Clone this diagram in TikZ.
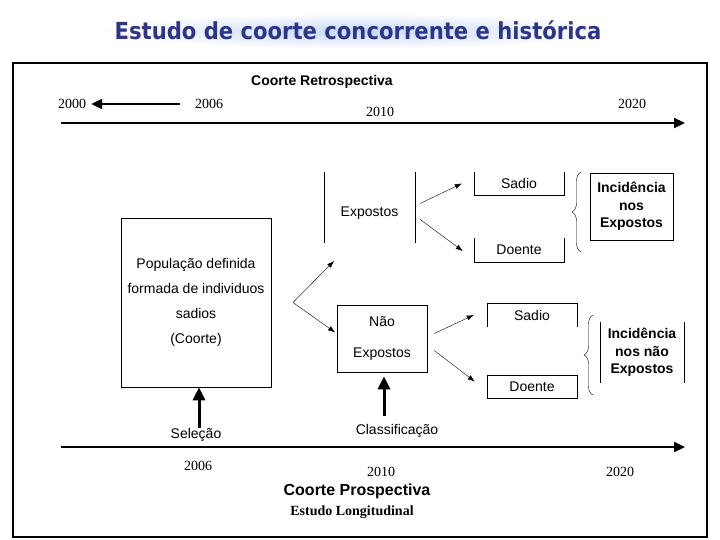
\documentclass[tikz,border=0pt]{standalone}
\usepackage{fontspec}
\setmainfont{Liberation Serif}
\setsansfont{Liberation Sans}
\newfontfamily\titlefont{DejaVu Sans Condensed}
\usetikzlibrary{arrows.meta, positioning, calc, decorations.pathreplacing}
\definecolor{ctitle}{HTML}{2E3586}
\definecolor{cglow}{HTML}{C6D8FA}

\begin{document}
\begin{tikzpicture}[
  x=1pt, y=-1pt,
  font=\sffamily\fontsize{14}{16}\selectfont,
  every node/.style={inner sep=0pt},
  year/.style={font=\rmfamily\fontsize{14}{16}\selectfont},
  heading/.style={font=\sffamily\bfseries\fontsize{14}{16}\selectfont},
  openbox/.style={minimum width=90pt, minimum height=24pt},
  incid/.style={align=center, font=\sffamily\bfseries\fontsize{14}{17.5}\selectfont},
  side/.style={semithick},
  timeline/.style={line width=2.2pt, -{Triangle[length=11pt, width=10pt]}},
  upbar/.style={line width=3pt, -{Triangle[length=13pt, width=12pt]}},
  thinarr/.style={thin, -{Latex[length=7pt, width=5pt]}},
  curly/.style={thin, decorate, decoration={brace, amplitude=9pt}},
  ]
\useasboundingbox (0,0) rectangle (720,540);

% title
\shade[inner color=cglow, outer color=white] (358,31) ellipse (260 and 18);
\node[font=\titlefont\bfseries\fontsize{23.5}{26}\selectfont, text=ctitle] (title) at (358,30)
  {Estudo de coorte concorrente e histórica};
\draw[line width=2pt] (13,63) rectangle (707,537);

% retrospective time line
\node[heading] (retro) at (322,82) {Coorte Retrospectiva};
\node[year] (y2000) at (72,104) {2000};
\node[year] (y2006) at (209,104) {2006};
\node[year] (y2010) at (380,112) {2010};
\node[year] (y2020) at (632,104) {2020};
\draw[timeline] ([xshift=-15pt]y2006.west) -- ([xshift=5pt]y2000.east);
\coordinate (rstart) at (61,123);
\coordinate (rend) at (685,123);
\draw[timeline] (rstart) -- (rend);

% cohort
\node[draw, semithick, minimum width=150pt, minimum height=169pt, align=center,
      font=\sffamily\fontsize{14}{25}\selectfont] (pop) at (196,302.5)
  {População definida\\formada de individuos\\sadios\\(Coorte)};
\coordinate (fork) at (293,302.5);
\coordinate (forkup) at (334,261);

% exposed
\node[minimum width=91pt, minimum height=71pt] (expo) at (369.5,207.5) {};
\node (expotxt) at ($(expo.center)+(0,6)$) {Expostos};
\draw[side] (expo.north west) -- (expo.south west);
\draw[side] (expo.north east) -- (expo.south east);
\node[draw, semithick, minimum width=90pt, minimum height=67pt, align=center,
      font=\sffamily\fontsize{14}{31}\selectfont] (nexp) at (382,338.5) {Não\\Expostos};

\draw[thinarr] (fork) -- (forkup);
\draw[thinarr, shorten >=2pt] (fork) -- ($(nexp.west)+(0,-5)$);

% outcomes
\node[openbox, minimum height=23pt] (sadA) at (519,183.5) {Sadio};
\draw[side] (sadA.north west) -- (sadA.south west) -- (sadA.south east) -- (sadA.north east);
\node[openbox] (doeA) at (519,250) {Doente};
\draw[side] (doeA.north west) -- (doeA.south west) -- (doeA.south east) -- (doeA.north east);
\node[openbox] (sadB) at (532,315) {Sadio};
\draw[side] (sadB.south west) -- (sadB.north west) -- (sadB.north east) -- (sadB.south east);
\node[openbox, draw, semithick, minimum height=23pt] (doeB) at (532,386.5) {Doente};

\draw[thinarr] ($(expo.east)+(5,-4)$) -- ($(sadA.west)+(-12,0)$);
\draw[thinarr] ($(expo.east)+(5,12)$) -- ($(doeA.west)+(-11,1)$);
\draw[thinarr] ($(nexp.east)+(7,-5)$) -- ($(sadB.west)+(-13,0)$);
\draw[thinarr] ($(nexp.east)+(7,12)$) -- ($(doeB.west)+(-12,-5)$);

% incidence
\draw[curly] (581,252) -- (581,172);
\node[incid, draw, semithick, minimum width=83pt, minimum height=67pt] (incA) at (631.5,206.5)
  {Incidência\\nos\\Expostos};
\draw[curly] (593,395) -- (593,315);
\node[incid, minimum width=84pt, minimum height=61pt] (incB) at (642,352.5)
  {Incidência\\nos não\\Expostos};
\draw[side] (incB.north west) -- (incB.south west);
\draw[side] (incB.north east) -- (incB.south east);

% prospective time line
\node (sel) at (196,435) {Seleção};
\coordinate (selbase) at (199,428);
\draw[upbar] (selbase) -- (selbase |- pop.south);
\node (cls) at (397,431) {Classificação};
\coordinate (clsbase) at (384,416);
\draw[upbar, shorten >=4pt] (clsbase) -- (clsbase |- nexp.south);

\coordinate (pstart) at (61,447);
\coordinate (pend) at (685,447);
\draw[timeline] (pstart) -- (pend);
\node[year] (p2006) at (198,466) {2006};
\node[year] (p2010) at (381,472) {2010};
\node[year] (p2020) at (620,472) {2020};
\node[font=\sffamily\bfseries\fontsize{16}{18}\selectfont] (prosp) at (357,491) {Coorte Prospectiva};
\node[font=\rmfamily\bfseries\fontsize{14}{16}\selectfont] (longit) at (352,512) {Estudo Longitudinal};
\end{tikzpicture}
\end{document}
